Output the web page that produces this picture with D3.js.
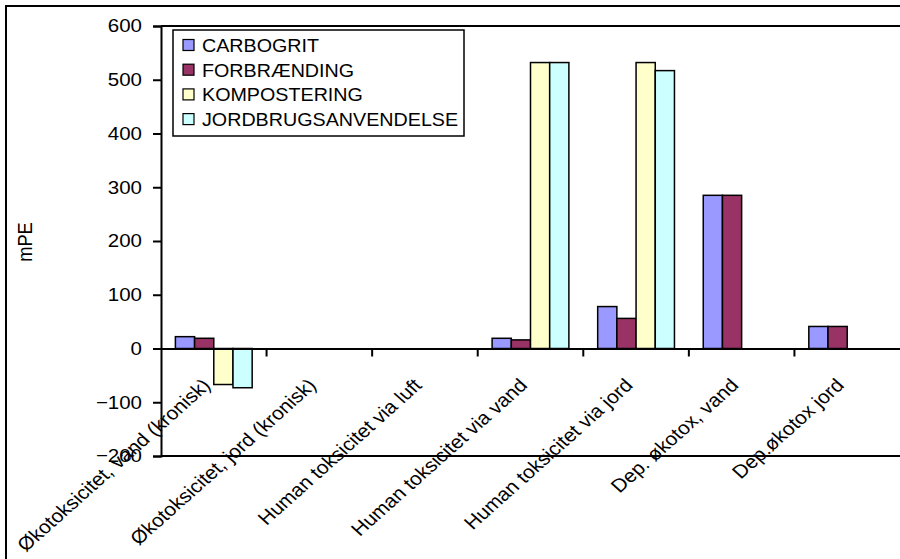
<!DOCTYPE html>
<html>
<head>
<meta charset="utf-8">
<script src="https://cdn.jsdelivr.net/npm/d3@7"></script>
<style>
  html, body { margin: 0; padding: 0; background: #fff; }
  svg { display: block; font-family: "Liberation Sans", Arial, sans-serif; }
</style>
</head>
<body>
<svg id="chart" width="900" height="559"></svg>
<script>
const categories = [
  "Økotoksicitet, vand (kronisk)",
  "Økotoksicitet, jord (kronisk)",
  "Human toksicitet via luft",
  "Human toksicitet via vand",
  "Human toksicitet via jord",
  "Dep. økotox, vand",
  "Dep.økotox jord"
];
const seriesNames = ["CARBOGRIT", "FORBRÆNDING", "KOMPOSTERING", "JORDBRUGSANVENDELSE"];
const seriesColors = ["#9999FF", "#993366", "#FFFFCC", "#CCFFFF"];
const carbogrit    = [22, null, null, 19, 78, 285, 41];
const forbraending = [19, null, null, 16, 56, 285, 41];
const kompostering = [-67, null, null, 532, 532, null, null];
const jordbrugs    = [-73, null, null, 532, 517, null, null];
const yTicks = [-200, -100, 0, 100, 200, 300, 400, 500, 600];
const yLabel = "mPE";

const seriesValues = [carbogrit, forbraending, kompostering, jordbrugs];
const SX = 1.12;   // horizontal stretch of the original picture's text
const FS = 18.3;

const svg = d3.select("#chart");
const plot = { left: 161, top: 26, right: 900, bottom: 456 };

// outer chart frame
svg.append("rect")
  .attr("x", 6).attr("y", 6).attr("width", 1000).attr("height", 1000)
  .attr("fill", "#fff").attr("stroke", "#000").attr("stroke-width", 2);

const x0 = d3.scaleBand().domain(categories).range([plot.left, plot.right]).padding(0);
const bw = x0.bandwidth();
const gap = bw * 1.5 / 5.5;
const x1 = d3.scaleBand().domain(seriesNames).range([gap / 2, bw - gap / 2]).padding(0);
const y = d3.scaleLinear().domain([-200, 600]).range([plot.bottom, plot.top]);

// plot area border (top & bottom)
svg.append("line").attr("x1", plot.left).attr("x2", 905)
  .attr("y1", plot.top).attr("y2", plot.top).attr("stroke", "#000").attr("stroke-width", 2);
svg.append("line").attr("x1", plot.left).attr("x2", 905)
  .attr("y1", plot.bottom).attr("y2", plot.bottom).attr("stroke", "#000").attr("stroke-width", 2);

// bars
const groups = svg.append("g").selectAll("g")
  .data(categories).join("g")
  .attr("transform", d => `translate(${x0(d)},0)`);
groups.selectAll("rect")
  .data((c, ci) => seriesNames.map((s, si) => ({ s, si, v: seriesValues[si][ci] })).filter(d => d.v != null))
  .join("rect")
  .attr("x", d => x1(d.s))
  .attr("width", x1.bandwidth())
  .attr("y", d => y(Math.max(0, d.v)))
  .attr("height", d => Math.abs(y(d.v) - y(0)))
  .attr("fill", d => seriesColors[d.si])
  .attr("stroke", "#000").attr("stroke-width", 1.5);

// y axis
const yAxis = d3.axisLeft(y).tickValues(yTicks).tickSize(8).tickPadding(11).tickFormat(d3.format("d"));
const gy = svg.append("g").attr("transform", `translate(${plot.left},0)`).call(yAxis);
gy.select(".domain").attr("stroke", "#000").attr("stroke-width", 2);
gy.selectAll(".tick line").attr("stroke", "#000").attr("stroke-width", 2);
gy.selectAll(".tick text")
  .attr("font-size", FS).attr("fill", "#000")
  .attr("font-family", "'Liberation Sans', Arial, sans-serif")
  .attr("x", -19 / SX)
  .attr("transform", `scale(${SX},1)`);

// x axis at zero
const xAxis = d3.axisBottom(x0).tickSize(0).tickFormat("");
const gx = svg.append("g").attr("transform", `translate(0,${y(0)})`).call(xAxis);
gx.select(".domain").attr("stroke", "#000").attr("stroke-width", 2);
gx.selectAll(".tick").remove();
// tick marks at category boundaries
const bounds = categories.slice(1).map(c => x0(c));
svg.append("g").selectAll("line").data(bounds).join("line")
  .attr("x1", d => d).attr("x2", d => d)
  .attr("y1", y(0)).attr("y2", y(0) + 8)
  .attr("stroke", "#000").attr("stroke-width", 2);

// category labels
svg.append("g").selectAll("text").data(categories).join("text")
  .attr("transform", d => `translate(${x0(d) + bw / 2 - 2},${y(0) + 38}) scale(${SX},1) rotate(-45)`)
  .attr("text-anchor", "end")
  .attr("font-size", FS + 0.4)
  .attr("fill", "#000")
  .text(d => d);

// y label
svg.append("text")
  .attr("transform", `translate(32,242) scale(${SX},1) rotate(-90)`)
  .attr("text-anchor", "middle")
  .attr("font-size", FS)
  .text(yLabel);

// legend
const lg = svg.append("g").attr("transform", "translate(173,30)");
lg.append("rect").attr("width", 291).attr("height", 106)
  .attr("fill", "#fff").attr("stroke", "#000").attr("stroke-width", 1.5);
const items = lg.selectAll("g.item").data(seriesNames).join("g")
  .attr("transform", (d, i) => `translate(0,${15 + i * 24.7})`);
items.append("rect").attr("x", 10).attr("y", -5.5).attr("width", 11).attr("height", 11)
  .attr("fill", (d, i) => seriesColors[i]).attr("stroke", "#000").attr("stroke-width", 1.2);
items.append("text").attr("x", 29 / SX).attr("y", 7).attr("font-size", 17.6)
  .attr("transform", `scale(${SX},1)`)
  .attr("fill", "#000").text(d => d);
</script>
</body>
</html>
